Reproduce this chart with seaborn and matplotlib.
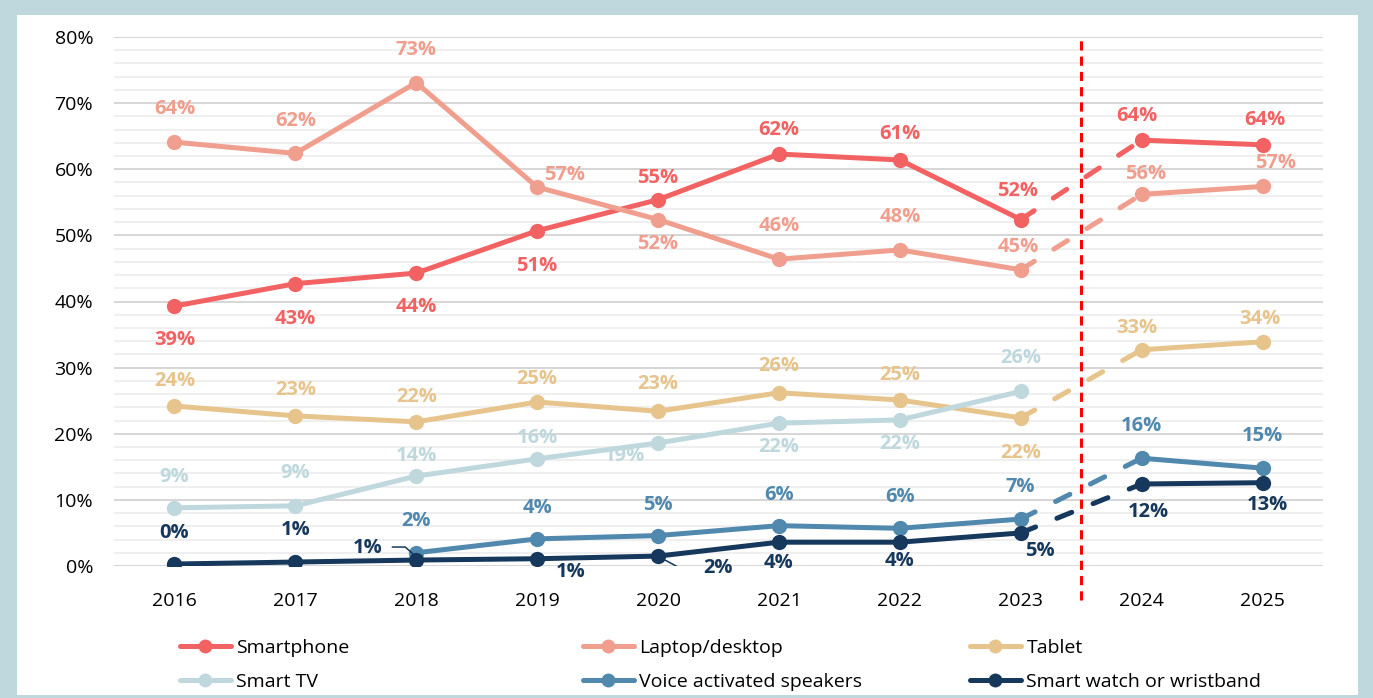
import numpy as np
import pandas as pd
import matplotlib.pyplot as plt
import seaborn as sns
from matplotlib.lines import Line2D
from matplotlib.patches import Rectangle

# ---- data (percent) ----
years = [2016, 2017, 2018, 2019, 2020, 2021, 2022, 2023, 2024, 2025]
smartphone = [39.3, 42.7, 44.3, 50.7, 55.4, 62.3, 61.4, 52.4, 64.4, 63.7]
laptop = [64.1, 62.4, 73.1, 57.3, 52.4, 46.4, 47.8, 44.8, 56.2, 57.4]
tablet = [24.2, 22.7, 21.8, 24.8, 23.4, 26.2, 25.1, 22.4, 32.7, 33.9]
smart_tv = [8.8, 9.1, 13.6, 16.2, 18.6, 21.6, 22.1, 26.4, np.nan, np.nan]
voice = [np.nan, np.nan, 2.0, 4.1, 4.6, 6.1, 5.7, 7.1, 16.3, 14.8]
watch = [0.3, 0.6, 0.9, 1.1, 1.5, 3.6, 3.6, 5.0, 12.4, 12.6]

devices = ["Smartphone", "Laptop/desktop", "Tablet", "Smart TV",
           "Voice activated speakers", "Smart watch or wristband"]
colors = ["#F26262", "#F09E8E", "#E6C48C", "#BFD8DE", "#5088AE", "#16385C"]
palette = dict(zip(devices, colors))

# label offsets in pixels (dx, dy), one per year, None = no label
label_pos = {
    "Smartphone": [(0, -34), (0, -35), (0, -34), (0, -35), (0, 22), (0, 24), (0, 26), (-3, 29), (-5, 24), (2, 25)],
    "Laptop/desktop": [(0, 33), (0, 32), (0, 33), (27, 12), (0, -24), (0, 33), (0, 33), (-3, 23), (4, 20), (13, 23)],
    "Tablet": [(0, 25), (0, 26), (0, 25), (0, 23), (0, 27), (0, 27), (0, 25), (0, -35), (-5, 22), (-3, 23)],
    "Smart TV": [(0, 31), (0, 33), (0, 20), (0, 21), (-34, -13), (0, -24), (0, -24), (0, 33), None, None],
    "Voice activated speakers": [None, None, (0, 32), (0, 31), (0, 31), (0, 31), (0, 31), (0, 32), (0, 32), (0, 32)],
    "Smart watch or wristband": [(0, 31), (0, 32), (-49, 12), (33, -13), (60, -12), (0, -21), (0, -19), (19, -18), (7, -28), (5, -22)],
}
# leader lines (pixel offsets from the point)
leaders = {
    ("Smart watch or wristband", 2018): [(-24, 13), (-11, 13), (-2, 5)],
    ("Smart watch or wristband", 2020): [(7, -4), (22, -12), (35, -12)],
}

df = pd.DataFrame({"year": years, devices[0]: smartphone, devices[1]: laptop,
                   devices[2]: tablet, devices[3]: smart_tv,
                   devices[4]: voice, devices[5]: watch})
long = df.melt(id_vars="year", var_name="device", value_name="share")

hist = long[long["year"] <= 2023].dropna()
fcst = long[long["year"] >= 2024].dropna()
bridge = long[long["year"].isin([2023, 2024])].dropna()
bridge = bridge[bridge.groupby("device")["year"].transform("count") == 2]

sns.set_theme(style="white")
plt.rcParams["font.family"] = ["Open Sans", "DejaVu Sans"]
plt.rcParams["text.color"] = "black"

fig = plt.figure(figsize=(13.73, 6.98), dpi=100, facecolor="#BFD8DE")
fig.patches.append(Rectangle((17 / 1373, 3 / 698), 1341 / 1373, 680 / 698,
                             transform=fig.transFigure, facecolor="white",
                             edgecolor="none", zorder=-5))
ax = fig.add_axes([114 / 1373, 132 / 698, 1209 / 1373, 529 / 698])
ax.set_facecolor("none")
ax.set_zorder(2)

ax.set_xlim(2015.5, 2025.5)
ax.set_ylim(0, 80)

line_kw = dict(x="year", y="share", hue="device", hue_order=devices,
               palette=palette, legend=False, ax=ax, linewidth=3.6)
sns.lineplot(data=bridge, linestyle=(0, (3.2, 4.6)), dash_capstyle="round", **line_kw)
sns.lineplot(data=hist, marker="o", markersize=11, markeredgewidth=0, **line_kw)
sns.lineplot(data=fcst, marker="o", markersize=11, markeredgewidth=0, **line_kw)
ax.set_xlim(2015.5, 2025.5)
ax.set_ylim(0, 80)

# data labels
for dev in devices:
    vals = df[dev].tolist()
    for yr, v, pos in zip(years, vals, label_pos[dev]):
        if pos is None or np.isnan(v):
            continue
        ax.annotate(f"{round(v)}%", xy=(yr, v), xytext=pos,
                    textcoords="offset pixels", ha="center", va="center",
                    fontsize=14.5, fontweight="bold", color=palette[dev], zorder=5)
        if (dev, yr) in leaders:
            p = ax.transData.transform((yr, v))
            pts = np.array(leaders[(dev, yr)], dtype=float) + p
            d = ax.transData.inverted().transform(pts)
            ax.plot(d[:, 0], d[:, 1], color=palette[dev], lw=1.1, zorder=4)

# forecast divider
ax.axvline(2023.5, ymin=-0.065, ymax=1.0, color="#FF0000", lw=2.2,
           linestyle=(0, (3, 2)), clip_on=False, zorder=1)

ax.set_xticks(years)
ax.set_xticklabels([str(y) for y in years])
ax.set_yticks(range(0, 81, 10))
ax.set_yticklabels([f"{t}%" for t in range(0, 81, 10)])
ax.set_yticks(range(0, 81, 2), minor=True)
ax.grid(axis="y", which="major", color="#D6D6D6", lw=1.4, zorder=0)
ax.grid(axis="y", which="minor", color="#EFEFEF", lw=1.4, zorder=0)
ax.set_axisbelow(True)
ax.tick_params(axis="both", which="both", length=0, labelsize=14, colors="black")
ax.tick_params(axis="y", pad=15)
ax.tick_params(axis="x", pad=19)
for s in ax.spines.values():
    s.set_visible(False)
ax.set_xlabel("")
ax.set_ylabel("")

# legend: three columns placed by hand
def handle(c):
    return Line2D([], [], color=c, lw=3.6, marker="o", markersize=10, markeredgewidth=0)

cols = [(0, 3), (1, 4), (2, 5)]
xs = [180 / 1373, 583 / 1373, 970 / 1373]
for (a, b), x in zip(cols, xs):
    fig.legend([handle(colors[a]), handle(colors[b])], [devices[a], devices[b]],
               loc="upper left", bbox_to_anchor=(x, 59 / 698), frameon=False,
               fontsize=14, handlelength=2.6, handletextpad=0.3, labelspacing=0.8,
               borderpad=0, borderaxespad=0, labelcolor="black")

fig.savefig("out.png", dpi=100, facecolor=fig.get_facecolor())
